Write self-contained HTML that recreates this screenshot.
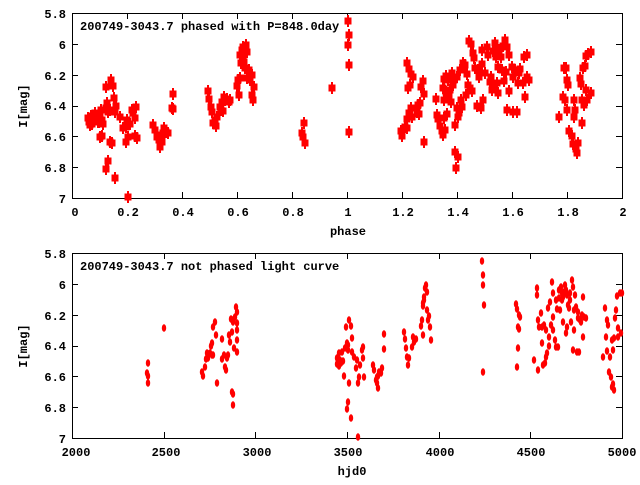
<!DOCTYPE html>
<html><head><meta charset="utf-8"><style>
body{margin:0;background:#fff}
svg text{font-family:"Liberation Mono",monospace;font-size:12px;font-weight:bold;fill:#000}
</style></head><body>
<svg id="s" width="640" height="480" xmlns="http://www.w3.org/2000/svg">
<rect width="640" height="480" fill="#fff"/>
<g id="g"></g>
<text x="80" y="30">200749-3043.7 phased with P=848.0day</text>
<text x="80" y="270">200749-3043.7 not phased light curve</text>
<text x="348" y="235" text-anchor="middle">phase</text>
<text x="352" y="475" text-anchor="middle">hjd0</text>
<text transform="translate(27,106) rotate(-90)" text-anchor="middle">I[mag]</text>
<text transform="translate(27,346) rotate(-90)" text-anchor="middle">I[mag]</text>
<g text-anchor="end">
<text x="66" y="18">5.8</text><text x="66" y="49">6</text><text x="66" y="80">6.2</text><text x="66" y="110">6.4</text><text x="66" y="141">6.6</text><text x="66" y="172">6.8</text><text x="66" y="203">7</text>
<text x="66" y="258">5.8</text><text x="66" y="289">6</text><text x="66" y="320">6.2</text><text x="66" y="350">6.4</text><text x="66" y="381">6.6</text><text x="66" y="412">6.8</text><text x="66" y="443">7</text>
</g>
<g text-anchor="middle">
<text x="75" y="216">0</text><text x="128" y="216">0.2</text><text x="183" y="216">0.4</text><text x="238" y="216">0.6</text><text x="293" y="216">0.8</text><text x="348" y="216">1</text><text x="403" y="216">1.2</text><text x="458" y="216">1.4</text><text x="513" y="216">1.6</text><text x="568" y="216">1.8</text><text x="623" y="216">2</text>
<text x="76" y="456">2000</text><text x="166" y="456">2500</text><text x="257" y="456">3000</text><text x="348" y="456">3500</text><text x="440" y="456">4000</text><text x="531" y="456">4500</text><text x="622" y="456">5000</text>
</g>
</svg>
<script>
(function(){
var g=document.getElementById('g'),h='';
function ax(y0,y1,xt){
 h+='<rect x="72.5" y="'+(y0+.5)+'" width="550" height="'+(y1-y0)+'" fill="none" stroke="#000" stroke-width="1"/>';
 for(var i=0;i<7;i++){var y=Math.round(y0+i*(y1-y0)/6)+.5;h+='<path d="M72 '+y+'h6M622 '+y+'h-6" stroke="#000"/>';}
 xt.forEach(function(x){x=Math.round(x)+.5;h+='<path d="M'+x+' '+y0+'v6M'+x+' '+y1+'v-6" stroke="#000"/>';});
}
var t=[];for(var i=0;i<=10;i++)t.push(72+i*55);
ax(13,198,t);
var b=[];for(var i=0;i<=6;i++)b.push(72+i*91.67);
ax(253,438,b);
var tp=[[88,118],[89,122],[90,125],[91,116],[93,120],[95,113],[96,118],[98,122],[100,115],[102,120],[103,124],[101,110],[97,116],[99,122],[92,124],[94,121],[102,136],[106,108],[107,103],[108,112],[110,110],[106,87],[111,80],[113,86],[114,98],[116,106],[115,112],[110,142],[112,143],[106,169],[108,161],[115,178],[120,117],[123,128],[126,127],[127,120],[126,142],[128,137],[128,197],[130,124],[132,110],[133,113],[135,118],[136,107],[135,136],[137,138],[100,137],
[153,125],[155,130],[157,137],[159,140],[160,147],[162,142],[163,133],[164,128],[166,132],[168,133],[162,135],[173,94],[172,108],[173,109],
[208,91],[209,99],[211,107],[212,112],[213,123],[215,120],[216,126],[217,117],[220,107],[221,110],[222,102],[224,97],[225,100],[227,99],[229,102],[230,100],[223,111],
[237,86],[238,80],[239,95],[240,55],[241,63],[242,50],[243,58],[243,47],[244,62],[245,68],[246,45],[247,52],[247,78],[249,70],[250,80],[252,75],[252,95],[253,100],[254,87],[240,78],
[302,133],[304,123],[305,143],[303,137],
[332,88],[348,21],[349,35],[348,45],[349,65],[349,132],
[401,131],[402,136],[405,127],[407,128],[407,63],[409,69],[411,74],[413,77],[408,88],[410,85],[407,119],[409,113],[412,117],[411,108],[417,112],[419,114],[418,105],[420,103],[421,87],[423,81],[424,94],[424,142],
[436,99],[437,115],[438,119],[440,126],[442,131],[443,135],[445,130],[444,118],[447,114],[443,88],[444,79],[446,76],[448,80],[449,95],[450,90],[451,102],[452,73],[453,85],[454,80],[455,125],[457,108],[457,77],[458,117],[459,113],[460,70],[461,100],[462,107],[463,67],[463,63],[465,65],[467,74],[468,85],[469,41],[471,44],[472,91],[473,53],[474,58],[475,68],[477,106],[478,70],[479,77],[481,108],[482,50],[482,64],[483,100],[485,73],[487,47],[488,55],[490,82],[491,77],[492,90],[493,51],[494,87],[495,43],[496,57],[497,83],[498,67],[498,93],[499,50],[501,57],[502,70],[503,46],[504,81],[505,40],[506,72],[507,47],[507,110],[509,55],[509,91],[512,67],[513,112],[513,77],[515,70],[517,112],[518,83],[519,73],[520,69],[523,83],[524,57],[525,97],[527,55],[527,77],[529,80],[455,152],[458,157],[456,168],[444,100],[446,92],[466,95],[470,88],
[559,117],[563,97],[564,68],[566,68],[567,80],[568,85],[565,100],[567,110],[569,131],[572,136],[573,144],[574,100],[574,117],[575,110],[576,149],[577,153],[578,143],[580,78],[581,84],[582,100],[582,123],[583,68],[584,105],[585,66],[586,90],[587,100],[586,56],[588,54],[591,52],[591,93]];
tp.forEach(function(p){h+='<rect x="'+(p[0]-3.5)+'" y="'+(p[1]-3.5)+'" width="7" height="7" fill="#f00"/><rect x="'+(p[0]-1)+'" y="'+(p[1]-6)+'" width="2" height="12" fill="#f00"/>';});
var bt=[[147,373],[148,376],[148,363],[148,383],[164,328],[202,372],[203,376],[205,367],[206,359],[207,353],[208,358],[210,353],[212,355],[211,346],[213,355],[213,327],[215,322],[216,335],[217,383],[212,343],[222,339],[222,359],[224,355],[225,367],[226,370],[227,358],[228,355],[229,335],[230,342],[232,332],[231,319],[233,322],[233,320],[234,348],[235,317],[236,307],[237,312],[237,330],[237,340],[237,323],[237,352],[232,392],[233,394],[233,405],
[337,358],[338,362],[339,353],[341,363],[342,352],[343,361],[344,376],[345,348],[346,327],[347,343],[348,345],[348,350],[349,383],[349,320],[351,326],[352,352],[352,338],[354,357],[356,368],[357,360],[358,383],[359,377],[360,365],[362,350],[363,347],[363,358],[364,377],[348,402],[347,409],[351,418],[358,437],[340,360],[337,364],[339,366],
[373,365],[374,370],[377,377],[377,383],[378,388],[379,372],[381,373],[382,368],[384,334],[384,349],[376,380],[378,376],
[404,332],[405,339],[406,348],[407,357],[408,365],[409,358],[412,347],[413,337],[414,342],[416,339],[421,326],[422,320],[423,335],[423,303],[424,297],[425,288],[426,285],[427,292],[427,310],[428,320],[429,316],[430,327],[431,340],[424,300],[423,306],
[482,261],[483,275],[483,285],[484,305],[483,372],
[516,304],[517,309],[519,315],[520,317],[518,327],[519,329],[518,348],[517,367],
[534,360],[537,288],[537,295],[538,370],[538,320],[539,327],[541,313],[542,327],[542,343],[543,365],[545,363],[546,357],[547,353],[549,346],[549,337],[548,308],[550,302],[551,325],[552,282],[553,293],[553,317],[553,330],[555,340],[556,347],[557,309],[558,347],[559,290],[559,298],[560,310],[561,287],[562,293],[563,322],[563,297],[564,292],[565,285],[566,333],[567,327],[567,295],[568,305],[569,308],[570,293],[571,322],[572,280],[573,350],[573,287],[574,310],[574,330],[575,295],[576,307],[577,352],[578,312],[579,352],[580,320],[582,315],[583,337],[583,297],[584,317],[586,318],[544,325],[546,330],[556,300],[562,300],[566,290],[570,300],[578,318],[581,322],
[603,357],[605,308],[606,337],[607,320],[607,351],[608,325],[609,372],[610,357],[611,377],[612,340],[612,387],[613,350],[614,338],[615,318],[616,310],[617,296],[618,337],[618,328],[620,293],[621,333],[622,293],[613,384],[614,390]];
bt.forEach(function(p){h+='<ellipse cx="'+p[0]+'" cy="'+p[1]+'" rx="2.2" ry="3.8" fill="#f00"/>';});
g.innerHTML=h;
})();
</script>
</body></html>
